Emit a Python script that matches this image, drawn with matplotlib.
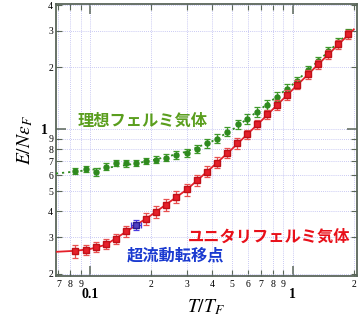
import matplotlib
matplotlib.use("Agg")
import matplotlib.pyplot as plt
from matplotlib.ticker import FixedLocator, FixedFormatter

# ---------------- data ----------------
red_T = [0.0846, 0.0952, 0.1067, 0.1195, 0.1339, 0.150, 0.189, 0.2117, 0.237,
         0.2657, 0.2999, 0.336, 0.3765, 0.4217, 0.4757, 0.531, 0.593, 0.667,
         0.749, 0.84, 0.941, 1.054, 1.186, 1.333, 1.499, 1.68, 1.88]
red_E = [0.2566, 0.2615, 0.2685, 0.2787, 0.2958, 0.3209, 0.3684, 0.398, 0.4293,
         0.4693, 0.5114, 0.5655, 0.6229, 0.689, 0.770, 0.855, 0.946, 1.057,
         1.183, 1.317, 1.473, 1.648, 1.849, 2.068, 2.312, 2.587, 2.892]
red_err = [0.018, 0.015, 0.015, 0.015, 0.016, 0.02, 0.024, 0.026, 0.028,
           0.032, 0.034, 0.036, 0.038, 0.042, 0.045, 0.048, 0.052, 0.056,
           0.062, 0.07, 0.078, 0.085, 0.095, 0.105, 0.115, 0.13, 0.145]

fit_red_T = [0.068, 0.085, 0.1, 0.12, 0.15, 0.2, 0.3, 0.4, 0.5, 0.7, 1.0, 1.5, 2.0]
fit_red_E = [0.255, 0.258, 0.263, 0.276, 0.318, 0.383, 0.51, 0.655, 0.80, 1.10, 1.56, 2.31, 3.05]

green_T = [0.0846, 0.0952, 0.1067, 0.1195, 0.1347, 0.150, 0.1679, 0.189, 0.2117,
           0.237, 0.2657, 0.2999, 0.336, 0.3765, 0.4217, 0.4757, 0.536, 0.593,
           0.667, 0.749, 0.84, 0.941, 1.054, 1.186, 1.333, 1.499, 1.68, 1.88]
green_E = [0.6275, 0.644, 0.621, 0.659, 0.689, 0.684, 0.689, 0.702, 0.713,
           0.729, 0.750, 0.770, 0.806, 0.855, 0.901, 0.975, 1.057, 1.125,
           1.215, 1.315, 1.441, 1.576, 1.716, 1.933, 2.147, 2.384, 2.636, 2.946]
green_err = [0.02, 0.022, 0.028, 0.025, 0.025, 0.025, 0.025, 0.026, 0.027,
             0.03, 0.033, 0.035, 0.038, 0.04, 0.045, 0.05, 0.055, 0.06,
             0.065, 0.07, 0.075, 0.08, 0.085, 0.09, 0.1, 0.11, 0.12, 0.13]

fit_green_T = [0.068, 0.1, 0.15, 0.2, 0.3, 0.4, 0.5, 0.7, 1.0, 1.5, 2.0]
fit_green_E = [0.611, 0.635, 0.670, 0.705, 0.78, 0.875, 0.99, 1.26, 1.65, 2.38, 3.1]

sf_T = [0.1686]
sf_E = [0.3445]
sf_Terr = [0.01]
sf_Eerr = [0.018]

xtick_major = [0.1, 1]
xtick_major_labels = ['0.1', '1']
xtick_minor = [0.07, 0.08, 0.09, 0.2, 0.3, 0.4, 0.5, 0.6, 0.7, 0.8, 0.9, 2]
xtick_minor_labels = ['7', '8', '9', '2', '3', '4', '5', '6', '7', '8', '9', '2']
ytick_major = [1]
ytick_major_labels = ['1']
ytick_minor = [0.2, 0.3, 0.4, 0.5, 0.6, 0.7, 0.8, 0.9, 2, 3, 4]
ytick_minor_labels = ['2', '3', '4', '5', '6', '7', '8', '9', '2', '3', '4']

label_ideal = '理想フェルミ気体'
label_unitary = 'ユニタリフェルミ気体'
label_sf = '超流動転移点'

# ---------------- plot ----------------
plt.rcParams['mathtext.fontset'] = 'stix'
cjk = ['Noto Sans CJK JP', 'DejaVu Sans']

W, H = 363, 330
fig = plt.figure(figsize=(W / 100, H / 100), dpi=100)
ax = fig.add_axes([0.154, 0.164, 0.829, 0.824])
ax.set_xscale('log')
ax.set_yscale('log')
ax.set_xlim(0.068, 2.07)
ax.set_ylim(0.195, 4.05)

red = '#e5202a'
green = '#2e8a1e'
blue = '#3a2ad0'

ax.plot(fit_green_T, fit_green_E, linestyle=(0, (1.2, 2.2)), color=green, lw=1.3, zorder=3)
ax.plot(fit_red_T, fit_red_E, '-', color=red, lw=1.3, zorder=3)

ax.errorbar(green_T, green_E, yerr=green_err, fmt='o', ms=3.6, color=green,
            mec=green, mfc=green, ecolor='#3f9a2a', elinewidth=0.9, capsize=2,
            capthick=0.9, zorder=4)
ax.errorbar(red_T, red_E, yerr=red_err, fmt='s', ms=3.8, color=red,
            mec='#c01018', mfc=red, ecolor='#e85050', elinewidth=0.9, capsize=2,
            capthick=0.9, zorder=5)
ax.errorbar(sf_T, sf_E, xerr=sf_Terr, yerr=sf_Eerr, fmt='s', ms=3.8, color=blue,
            mec='#2a1a90', mfc='#5040c0', ecolor='#4a3ae0', elinewidth=0.9,
            capsize=2, capthick=0.9, zorder=6)

# ticks
ax.xaxis.set_major_locator(FixedLocator(xtick_major))
ax.xaxis.set_major_formatter(FixedFormatter(xtick_major_labels))
ax.xaxis.set_minor_locator(FixedLocator(xtick_minor))
ax.xaxis.set_minor_formatter(FixedFormatter(xtick_minor_labels))
ax.yaxis.set_major_locator(FixedLocator(ytick_major))
ax.yaxis.set_major_formatter(FixedFormatter(ytick_major_labels))
ax.yaxis.set_minor_locator(FixedLocator(ytick_minor))
ax.yaxis.set_minor_formatter(FixedFormatter(ytick_minor_labels))

spine_c = '#5a665a'
ax.tick_params(which='both', direction='in', top=True, right=True, color=spine_c)
ax.tick_params(which='major', length=7, width=1.1)
ax.tick_params(which='minor', length=4, width=0.8)
ax.tick_params(axis='x', which='minor', pad=3, labelsize=7)
ax.tick_params(axis='x', which='major', pad=9, labelsize=10)
ax.tick_params(axis='y', which='minor', pad=2, labelsize=7)
ax.tick_params(axis='y', which='major', pad=6, labelsize=10)
for lab in ax.get_xticklabels(which='both') + ax.get_yticklabels(which='both'):
    lab.set_family('Liberation Serif')
for lab in ax.get_xticklabels() + ax.get_yticklabels():
    lab.set_fontweight('bold')

for s in ax.spines.values():
    s.set_color(spine_c)
    s.set_linewidth(1.3)

ax.grid(True, which='both', color='#b8b8f0', linestyle=(0, (1, 1.5)), lw=0.6)
ax.set_axisbelow(True)

ax.set_xlabel('$T/T_F$', fontsize=14, labelpad=-3)
ax.set_ylabel(r'$E/N\varepsilon_F$', fontsize=14, labelpad=4)

fig.text(78 / W, 1 - 121 / H, label_ideal, color='#5a9e1e', fontsize=11.7,
         fontweight='bold', family=cjk, va='center', ha='left', zorder=7)
fig.text(188 / W, 1 - 237 / H, label_unitary, color='#e8101a', fontsize=11.7,
         fontweight='bold', family=cjk, va='center', ha='left', zorder=7)
fig.text(127 / W, 1 - 255 / H, label_sf, color='#1a3ad0', fontsize=11.7,
         fontweight='bold', family=cjk, va='center', ha='left', zorder=7)

fig.savefig('out.png', dpi=100)
